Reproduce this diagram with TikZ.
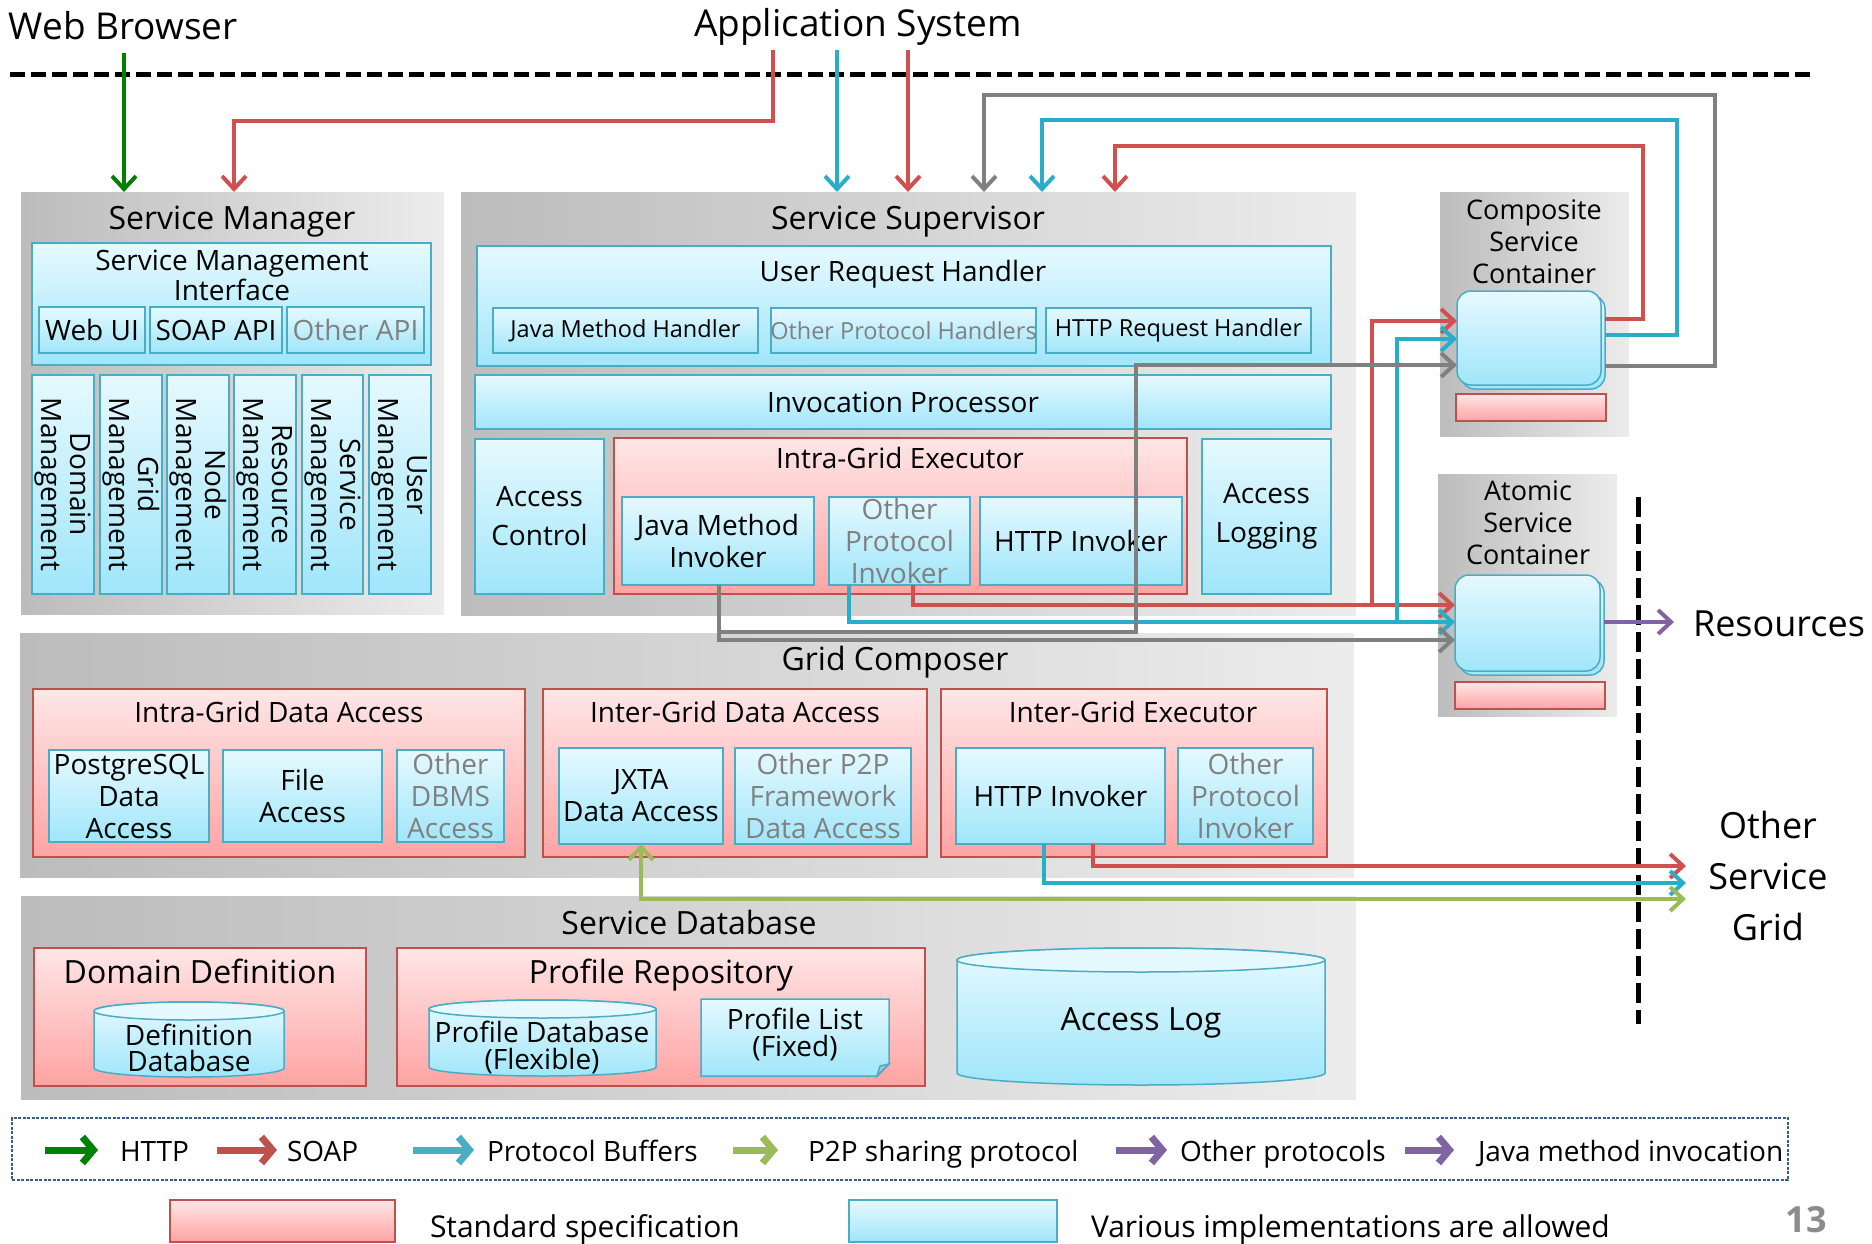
\documentclass[tikz,border=0pt]{standalone}
\usepackage{fontspec}
\setmainfont{Open Sans}
\usetikzlibrary{arrows.meta}
\definecolor{grayL}{RGB}{188,188,188}
\definecolor{grayR}{RGB}{236,236,236}
\definecolor{blueT}{RGB}{230,249,255}
\definecolor{blueB}{RGB}{160,230,250}
\definecolor{bborder}{RGB}{75,172,198}
\definecolor{pinkT}{RGB}{255,230,230}
\definecolor{pinkB}{RGB}{255,163,163}
\definecolor{pborder}{RGB}{192,80,77}
\definecolor{txtgray}{RGB}{128,128,128}
\definecolor{ared}{RGB}{208,80,80}
\definecolor{ablue}{RGB}{40,174,200}
\definecolor{agray}{RGB}{128,128,128}
\definecolor{agreen}{RGB}{0,128,0}
\definecolor{ap2p}{RGB}{155,187,89}
\definecolor{apurple}{RGB}{128,100,162}
\definecolor{lgborder}{RGB}{56,93,138}
\newcommand\myfs[2]{\fontsize{#1}{#2}\selectfont}
\newcommand\gb[6]{\node[#1,anchor=north west,minimum width={#5-#3},minimum height={#6-#4}] (#2) at (#3,#4) {};}
\newcommand\bx[8][]{\gb{#2}{#3}{#4}{#5}{#6}{#7}\node[txt,#1] (#3-t) at (#3.center) {#8};}
\newcommand\cyl[5]{%
  \pgfmathsetmacro\rx{(#3-#1)/2}%
  \draw[bbox] (#1,#2+#5) -- (#1,#4-#5) arc[start angle=180,end angle=0,x radius=\rx,y radius=#5] -- (#3,#2+#5) arc[start angle=0,end angle=-180,x radius=\rx,y radius=#5] -- cycle;
  \draw[draw=bborder,line width=1.5pt,fill=blueT] ({(#1+#3)/2},#2+#5) ellipse[x radius=\rx,y radius=#5];}
\begin{document}
\begin{tikzpicture}[x=1pt,y=-1pt,
  every node/.style={inner sep=0pt,outer sep=0pt},
  grp/.style={draw=none,left color=grayL,right color=grayR},
  bbox/.style={draw=bborder,line width=1.5pt,top color=blueT,bottom color=blueB},
  pbox/.style={draw=pborder,line width=1.5pt,top color=pinkT,bottom color=pinkB},
  txt/.style={align=center,font=\myfs{28}{32}},
  dimtxt/.style={text=txtgray},
  smalltxt/.style={font=\myfs{23.5}{28}},
  ttl/.style={anchor=base,align=center,font=\myfs{32}{36}},
  ttm/.style={anchor=base,align=center,font=\myfs{28}{32}},
  conn/.style={line width=4pt,-{Straight Barb[length=13pt,width=24pt]}},
  rarr/.style={conn,draw=ared},
  barr/.style={conn,draw=ablue},
  garr/.style={conn,draw=agray},
  harr/.style={conn,draw=agreen},
  parr/.style={conn,draw=ap2p,{Straight Barb[length=13pt,width=24pt]}-{Straight Barb[length=13pt,width=24pt]}},
  uarr/.style={conn,draw=apurple},
  lgarr/.style={line width=7pt,-{Straight Barb[length=11pt,width=26pt]}},
  sepline/.style={line width=5pt,dash pattern=on 15pt off 6pt},
  ltxt/.style={anchor=base west,font=\myfs{28}{32}},
]
\useasboundingbox (0,0) rectangle (1872,1244);
% ---------- top labels
\node[anchor=base west,font=\myfs{37}{42}] (wb) at (9,40) {Web Browser};
\node[anchor=base,font=\myfs{37}{42}] (as) at (858,37) {Application System};
\draw[sepline] (10,75) -- (1812,75);
% ---------- Service Manager
\gb{grp}{sm}{21}{192}{444}{614}
\node[ttl] (sm-t) at (232,229) {Service Manager};
\gb{bbox}{smi}{32}{243}{431}{365}
\node[anchor=base,align=center,font=\myfs{28}{25}] (smi-t) at (232,300) {Service Management\\Interface};
\bx{bbox}{webui}{39}{307}{145}{353}{Web UI}
\bx{bbox}{soap}{150}{307}{282}{353}{SOAP API}
\bx[dimtxt]{bbox}{oapi}{287}{307}{424}{353}{Other API}
\gb{bbox}{m1}{32}{375}{94}{594}
\gb{bbox}{m2}{100}{375}{162}{594}
\gb{bbox}{m3}{167}{375}{229}{594}
\gb{bbox}{m4}{234}{375}{296}{594}
\gb{bbox}{m5}{302}{375}{363}{594}
\gb{bbox}{m6}{369}{375}{431}{594}
\node[txt,rotate=-90,font=\myfs{28}{29}] (m1-t) at (m1.center) {Domain\\Management};
\node[txt,rotate=-90,font=\myfs{28}{29}] (m2-t) at (m2.center) {Grid\\Management};
\node[txt,rotate=-90,font=\myfs{28}{29}] (m3-t) at (m3.center) {Node\\Management};
\node[txt,rotate=-90,font=\myfs{28}{29}] (m4-t) at (m4.center) {Resource\\Management};
\node[txt,rotate=-90,font=\myfs{28}{29}] (m5-t) at (m5.center) {Service\\Management};
\node[txt,rotate=-90,font=\myfs{28}{29}] (m6-t) at (m6.center) {User\\Management};
% ---------- Service Supervisor
\gb{grp}{ss}{461}{192}{1356}{615}
\node[ttl] (ss-t) at (908,229) {Service Supervisor};
\gb{bbox}{urh}{477}{246}{1331}{366}
\node[ttm] (urh-t) at (903,281) {User Request Handler};
\bx[smalltxt]{bbox}{jmh}{493}{308}{758}{353}{Java Method Handler}
\bx[smalltxt,dimtxt]{bbox}{oph}{771}{308}{1036}{353}{Other Protocol Handlers}
\bx[smalltxt]{bbox}{hrh}{1046}{308}{1311}{353}{HTTP Request Handler}
\bx{bbox}{ip}{475}{375}{1331}{429}{Invocation Processor}
\bx[font=\myfs{28}{39}]{bbox}{ac}{475}{439}{604}{594}{Access\\Control}
\gb{pbox}{ige}{614}{438}{1187}{594}
\node[ttm] (ige-t) at (900,468) {Intra-Grid Executor};
\bx{bbox}{jmi}{622}{497}{814}{585}{Java Method\\Invoker}
\bx[dimtxt]{bbox}{opi}{829}{497}{970}{585}{Other\\Protocol\\Invoker}
\bx{bbox}{hi1}{980}{497}{1182}{585}{HTTP Invoker}
\bx[font=\myfs{28}{39}]{bbox}{al}{1202}{439}{1331}{594}{Access\\Logging}
% ---------- Grid Composer
\gb{grp}{gc}{20}{633}{1354}{877}
\node[ttl] (gc-t) at (895,670) {Grid Composer};
\gb{pbox}{igda}{33}{689}{525}{857}
\node[ttm] (igda-t) at (279,722) {Intra-Grid Data Access};
\bx{bbox}{pg}{49}{750}{209}{842}{PostgreSQL\\Data\\Access}
\bx{bbox}{fa}{223}{750}{382}{842}{File\\Access}
\bx[dimtxt]{bbox}{odb}{397}{750}{504}{842}{Other\\DBMS\\Access}
\gb{pbox}{irda}{543}{689}{927}{857}
\node[ttm] (irda-t) at (735,722) {Inter-Grid Data Access};
\bx{bbox}{jxta}{559}{748}{723}{844}{JXTA\\Data Access}
\bx[dimtxt]{bbox}{op2p}{735}{748}{911}{844}{Other P2P\\Framework\\Data Access}
\gb{pbox}{ige2}{941}{689}{1327}{857}
\node[ttm] (ige2-t) at (1133,722) {Inter-Grid Executor};
\bx{bbox}{hi2}{956}{748}{1165}{844}{HTTP Invoker}
\bx[dimtxt]{bbox}{opi2}{1178}{748}{1313}{844}{Other\\Protocol\\Invoker}
% ---------- Service Database
\gb{grp}{sd}{21}{896}{1356}{1099}
\node[ttl] (sd-t) at (689,934) {Service Database};
\gb{pbox}{dd}{34}{948}{366}{1086}
\node[ttl] (dd-t) at (200,983) {Domain Definition};
\gb{pbox}{pr}{397}{948}{925}{1086}
\node[ttl] (pr-t) at (661,983) {Profile Repository};
\cyl{94}{1002}{284}{1077}{9}
\node[txt,font=\myfs{28}{26}] (defdb) at (189,1048) {Definition\\Database};
\cyl{429}{1000}{656}{1076}{9}
\node[txt,font=\myfs{28}{27}] (profdb) at (542,1047) {Profile Database\\(Flexible)};
\draw[bbox] (701,999) -- (889,999) -- (889,1064) -- (877,1076) -- (701,1076) -- cycle;
\draw[draw=bborder,line width=1.5pt,fill=bborder!60] (889,1064) -- (880,1066) -- (877,1076) -- cycle;
\node[txt,font=\myfs{28}{27}] (plist) at (795,1034) {Profile List\\(Fixed)};
\cyl{957}{948}{1325}{1085}{12}
\node[txt,font=\myfs{32}{36}] (alog) at (1141,1023) {Access Log};
% ---------- containers
\gb{grp}{csc}{1440}{192}{1629}{436}
\node[anchor=base,align=center,font=\myfs{27}{32}] (csc-t) at (1534,283) {Composite\\Service\\Container};
\gb{bbox,rounded corners=14pt}{cicb}{1461}{295}{1605}{389}
\gb{bbox,rounded corners=14pt}{cic}{1457}{291}{1601}{385}
\gb{pbox}{cpk}{1456}{394}{1606}{421}
\gb{grp}{asc}{1438}{474}{1617}{716}
\node[anchor=base,align=center,font=\myfs{27}{32}] (asc-t) at (1528,564) {Atomic\\Service\\Container};
\gb{bbox,rounded corners=14pt}{aicb}{1459}{579}{1604}{675}
\gb{bbox,rounded corners=14pt}{aic}{1455}{575}{1600}{671}
\gb{pbox}{apk}{1455}{682}{1605}{709}
% ---------- outside labels
\draw[line width=5pt,dash pattern=on 20pt off 7pt] (1638,497) -- (1638,1024);
\node[anchor=base west,font=\myfs{36}{40}] (res) at (1693,636) {Resources};
\node[anchor=base,align=center,font=\myfs{36}{51}] (osg) at (1768,940) {Other\\Service\\Grid};
% ---------- connectors
\coordinate (wbs) at (124,53);
\draw[harr] (wbs) -- (wbs |- sm.north);
\coordinate (as1) at (773,50);
\draw[rarr] (as1) -- ++(0,71) -| ([xshift=213pt]sm.north west);
\coordinate (as2) at (837,50);
\draw[barr] (as2) -- (as2 |- ss.north);
\coordinate (as3) at (908,50);
\draw[rarr] (as3) -- (as3 |- ss.north);
\draw[rarr] ([yshift=-24pt]cicb.north east) -- ++(38,0) |- ++(-528,-173) -- ([xshift=654pt]ss.north west);
\draw[barr] ([yshift=-40pt]cicb.north east) -- ++(72,0) |- ++(-635,-215) -- ([xshift=581pt]ss.north west);
\draw[garr] ([yshift=-71pt]cicb.north east) -- ++(110,0) |- ++(-731,-271) -- ([xshift=523pt]ss.north west);
\draw[rarr] ([xshift=84pt]opi.south west) |- ([yshift=-30pt]aic.north west);
\coordinate (rj) at (1372,605);
\draw[rarr] (rj) |- ([yshift=-30pt]cic.north west);
\draw[barr] ([xshift=20pt]opi.south west) |- ([yshift=-47pt]aic.north west);
\coordinate (bj) at (1397,622);
\draw[barr] (bj) |- ([yshift=-48pt]cic.north west);
\draw[garr] ([xshift=97pt]jmi.south west) |- ([yshift=-65pt]aic.north west);
\coordinate (gj) at (719,632);
\draw[garr] (gj) -- ++(417,0) |- ([yshift=-74pt]cic.north west);
\coordinate (osg1) at (1686,866);
\coordinate (osg2) at (1686,883);
\coordinate (osg3) at (1686,899);
\draw[rarr] ([xshift=137pt]hi2.south west) |- (osg1);
\draw[barr] ([xshift=88pt]hi2.south west) |- (osg2);
\draw[parr] (jxta.south) |- (osg3);
\coordinate (resin) at (1674,622);
\draw[uarr] ([yshift=-43pt]aicb.north east) -- (resin);
% ---------- legend
\gb{draw=lgborder,line width=2pt,dash pattern=on 3pt off 1.5pt}{lg}{12}{1118}{1788}{1180}
\draw[lgarr,draw=agreen] (45,1150) -- (98,1150);
\node[ltxt] (l1) at (120,1161) {HTTP};
\draw[lgarr,draw=pborder] (217,1150) -- (277,1150);
\node[ltxt] (l2) at (287,1161) {SOAP};
\draw[lgarr,draw=bborder] (413,1150) -- (474,1150);
\node[ltxt] (l3) at (487,1161) {Protocol Buffers};
\draw[lgarr,draw=ap2p] (733,1150) -- (778,1150);
\node[ltxt] (l4) at (808,1161) {P2P sharing protocol};
\draw[lgarr,draw=apurple] (1116,1150) -- (1167,1150);
\node[ltxt] (l5) at (1180,1161) {Other protocols};
\draw[lgarr,draw=apurple] (1405,1150) -- (1454,1150);
\node[ltxt] (l6) at (1478,1161) {Java method invocation};
\gb{pbox}{sw1}{170}{1200}{395}{1242}
\node[anchor=base west,font=\myfs{30}{34}] (sw1-t) at (430,1237) {Standard specification};
\gb{bbox}{sw2}{849}{1200}{1057}{1242}
\node[anchor=base west,font=\myfs{30}{34}] (sw2-t) at (1091,1237) {Various implementations are allowed};
\node[anchor=base,font=\myfs{36}{40}\bfseries,text=black!45] (pgno) at (1806,1232) {13};
\end{tikzpicture}
\end{document}
